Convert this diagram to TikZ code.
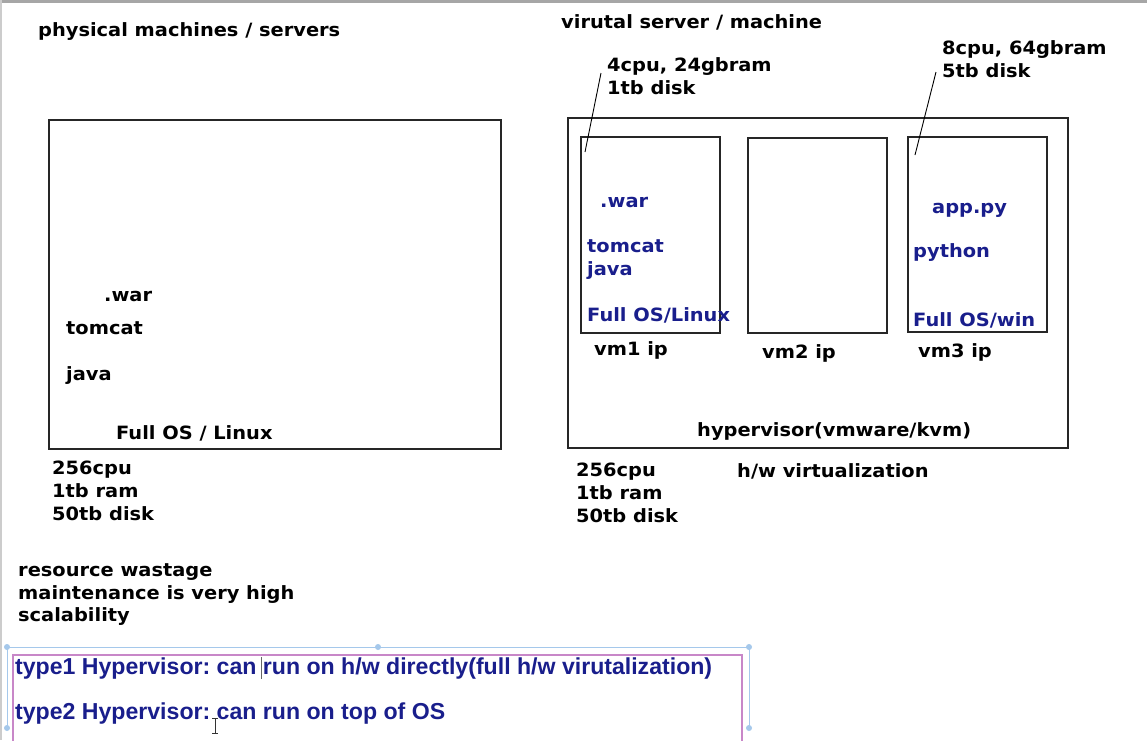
\documentclass[tikz,border=0pt]{standalone}
\usepackage{fontspec}
\setmainfont{DejaVu Sans}[FakeStretch=1.06]
\newfontfamily\notefont{Liberation Sans}
\usetikzlibrary{positioning}
\definecolor{vmblue}{RGB}{25,30,140}
\definecolor{selblue}{RGB}{165,200,235}
\definecolor{selpink}{RGB}{200,135,200}
\frenchspacing
\tikzset{
    mytext/.style = {anchor=base west, inner sep=0pt, font=\bfseries\fontsize{18.3}{23}\selectfont, text=black},
    mytextb/.style = {mytext, text=vmblue},
    mynote/.style = {anchor=base west, inner sep=0pt, font=\notefont\bfseries\fontsize{23.1}{26}\selectfont, text=vmblue},
    mybox/.style = {rectangle, draw=black!85, line width=1.3pt, inner sep=0pt},
    edgen/.style = {-, line width=0.9pt, black},
    edgesel/.style = {-, line width=1pt, selblue},
    myhandle/.style = {circle, fill=selblue, inner sep=0pt, minimum size=6pt},
}
\begin{document}
\begin{tikzpicture}[x=1pt,y=-1pt]
\useasboundingbox (0,0) rectangle (1147,740);
\fill[white] (0,0) rectangle (1147,740);
\draw[black!35, line width=3pt] (0,1) -- (1147,1);
\draw[black!20, line width=2pt] (1,0) -- (1,740);
% physical machine
\node[mytext] at (38,36) (tphys) {physical machines / servers};
\node[mybox, minimum width=452pt, minimum height=329pt] at (275,284.5) (phys) {};
\node[mytext] at (104,301) (pwar) {.war};
\node[mytext] at (66,334) (ptom) {tomcat};
\node[mytext] at (66,380) (pjava) {java};
\node[mytext] at (116,439) (pos) {Full OS / Linux};
\node[mytext] at (52,474) (pcpu) {256cpu};
\node[mytext] at (52,497) (pram) {1tb ram};
\node[mytext] at (52,520) (pdisk) {50tb disk};
\node[mytext] at (18,576) (w1) {resource wastage};
\node[mytext] at (18,599) (w2) {maintenance is very high};
\node[mytext] at (18,621) (w3) {scalability};
% virtual machines
\node[mytext] at (561,28) (tvirt) {virutal server / machine};
\node[mybox, minimum width=500pt, minimum height=330pt] at (818,283) (host) {};
\node[mybox, minimum width=139pt, minimum height=196pt] at (650.5,235) (vm1) {};
\node[mybox, minimum width=139pt, minimum height=195pt] at (817.5,235.5) (vm2) {};
\node[mybox, minimum width=139pt, minimum height=195pt] at (977.5,234.5) (vm3) {};
\node[mytext] at (607,71) (c1a) {4cpu, 24gbram};
\node[mytext] at (607,94) (c1b) {1tb disk};
\node[mytext] at (942,54) (c3a) {8cpu, 64gbram};
\node[mytext] at (942,77) (c3b) {5tb disk};
\coordinate (l1a) at (601,73);
\coordinate (l1b) at (585,152);
\coordinate (l3a) at (936,72);
\coordinate (l3b) at (915,155);
\draw[edgen] (l1a) -- (l1b);
\draw[edgen] (l3a) -- (l3b);
\node[mytextb] at (600,207) (v1war) {.war};
\node[mytextb] at (587,252) (v1tom) {tomcat};
\node[mytextb] at (587,275) (v1java) {java};
\node[mytextb] at (587,321) (v1os) {Full OS/Linux};
\node[mytextb] at (932,213) (v3app) {app.py};
\node[mytextb] at (913,257) (v3py) {python};
\node[mytextb] at (913,326) (v3os) {Full OS/win};
\node[mytext] at (594,355) (ip1) {vm1 ip};
\node[mytext] at (762,358) (ip2) {vm2 ip};
\node[mytext] at (918,357) (ip3) {vm3 ip};
\node[mytext] at (697,436) (hyp) {hypervisor(vmware/kvm)};
\node[mytext] at (576,476) (hcpu) {256cpu};
\node[mytext] at (576,499) (hram) {1tb ram};
\node[mytext] at (576,522) (hdisk) {50tb disk};
\node[mytext] at (737,477) (hwv) {h/w virtualization};
% notes box
\coordinate (s1) at (7,647);
\coordinate (s2) at (378,647);
\coordinate (s3) at (749,647);
\coordinate (s4) at (7,728);
\coordinate (s5) at (749,728);
\draw[edgesel] (s4) -- (s1) -- (s3) -- (s5);
\foreach \h in {s1,s2,s3,s4,s5}
    \node[myhandle] at (\h) {};
\draw[selpink, line width=1.2pt] (13,742) -- (13,655) -- (742,655) -- (742,742);
\node[mynote] at (15,674) (n1) {type1 Hypervisor: can run on h/w directly(full h/w virutalization)};
\node[mynote] at (15,719) (n2) {type2 Hypervisor: can run on top of OS};
\draw[black!60, line width=0.8pt] (261,657) -- (261,679);
\draw[black!80, line width=0.9pt] (215,718) -- (215,733) (212,718) -- (218,718) (212,733) -- (218,733);
\end{tikzpicture}
\end{document}
